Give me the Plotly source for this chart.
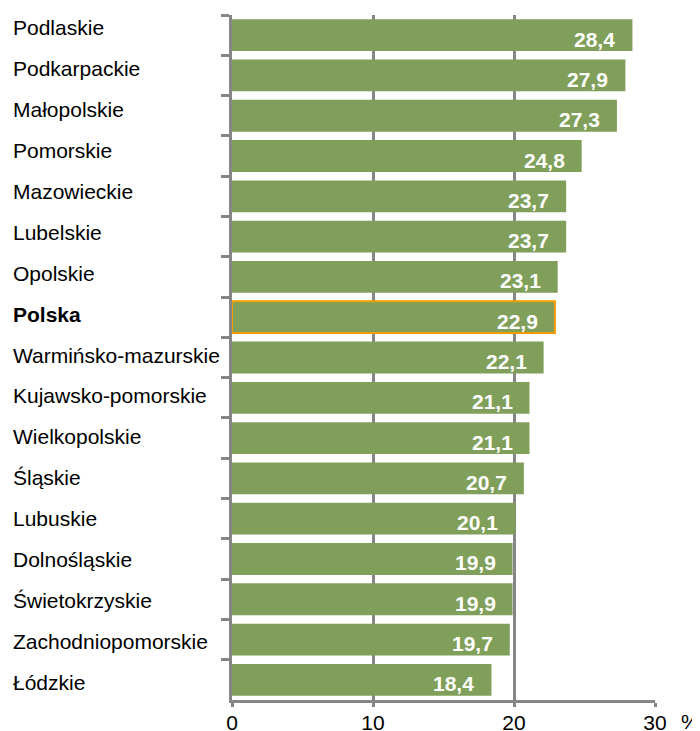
import plotly.graph_objects as go

regions = ["Podlaskie", "Podkarpackie", "Małopolskie", "Pomorskie", "Mazowieckie",
           "Lubelskie", "Opolskie", "Polska", "Warmińsko-mazurskie", "Kujawsko-pomorskie",
           "Wielkopolskie", "Śląskie", "Lubuskie", "Dolnośląskie", "Świetokrzyskie",
           "Zachodniopomorskie", "Łódzkie"]
values = [28.4, 27.9, 27.3, 24.8, 23.7, 23.7, 23.1, 22.9, 22.1, 21.1, 21.1, 20.7,
          20.1, 19.9, 19.9, 19.7, 18.4]
x_ticks = [0, 10, 20, 30]
highlight = "Polska"

FONT = "Liberation Sans, Arial, sans-serif"
GREEN = "rgb(128,159,90)"
GREY = "rgb(134,134,134)"
ORANGE = "rgb(245,157,0)"
FS = 21

labels = [f"{v:.1f}".replace(".", ",") for v in values]
line_colors = [ORANGE if r == highlight else GREEN for r in regions]
line_widths = [2 if r == highlight else 0 for r in regions]

fig = go.Figure(go.Bar(
    x=values, y=regions, orientation="h",
    marker=dict(color=GREEN, line=dict(color=line_colors, width=line_widths)),
    width=0.79, hoverinfo="skip",
))

annotations = []
n = len(regions)
for i, r in enumerate(regions):
    annotations.append(dict(
        x=0, xref="paper", xshift=-221, y=r, yref="y",
        text=f"<b>{r}</b>" if r == highlight else r,
        showarrow=False, xanchor="left", yanchor="middle",
        font=dict(family=FONT, size=FS, color="black"),
        yshift=8 - i * 11 / (n - 1),
    ))
for r, v, t in zip(regions, values, labels):
    annotations.append(dict(
        x=v, xref="x", xshift=-15, y=r, yref="y", yshift=-4,
        text=f"<b>{t}</b>", showarrow=False, xanchor="right", yanchor="middle",
        font=dict(family=FONT, size=FS, color="white"),
    ))
annotations.append(dict(
    x=1, xref="paper", xshift=24, y=0, yref="paper", yshift=-21,
    text="%", showarrow=False, xanchor="left", yanchor="middle",
    font=dict(family=FONT, size=FS, color="black"),
))

fig.update_layout(
    width=692, height=723,
    margin=dict(l=224, r=45, t=7, b=31, autoexpand=False),
    paper_bgcolor="white", plot_bgcolor="white",
    showlegend=False,
    font=dict(family=FONT, size=FS, color="black"),
    annotations=annotations,
    xaxis=dict(
        range=[0, 30], tickvals=x_ticks, ticktext=[str(t) for t in x_ticks],
        showgrid=True, gridcolor=GREY, gridwidth=2.5, zeroline=False,
        showline=True, linecolor=GREY, linewidth=2.5,
        ticks="outside", ticklen=4, tickcolor=GREY, tickwidth=2.5,
        ticklabelstandoff=-2,
        tickfont=dict(family=FONT, size=FS, color="black"),
        fixedrange=True, automargin=False,
    ),
    yaxis=dict(
        categoryorder="array", categoryarray=regions, autorange="reversed",
        showticklabels=False, showgrid=False, zeroline=False,
        showline=True, linecolor=GREY, linewidth=2.5,
        ticks="outside", tickson="boundaries", ticklen=8, tickcolor=GREY, tickwidth=2.5,
        fixedrange=True, automargin=False,
    ),
)

fig.write_html("out.html")
